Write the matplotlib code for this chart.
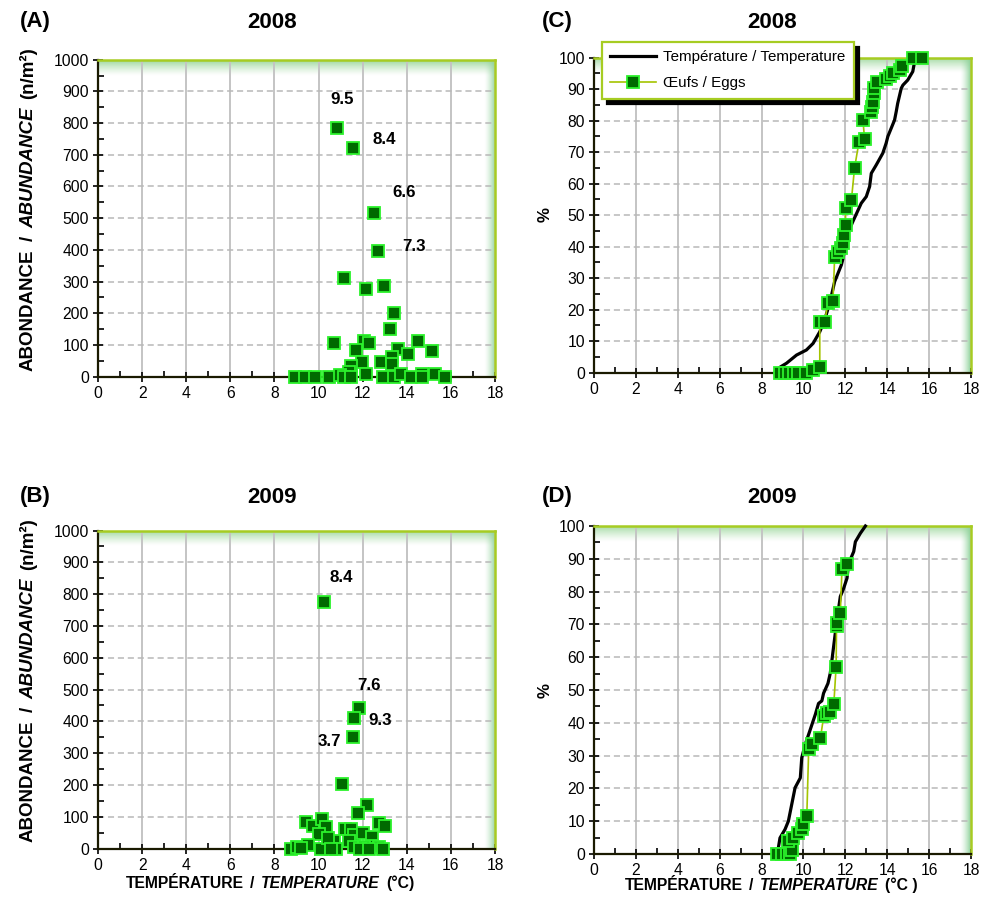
import numpy as np
import matplotlib
matplotlib.use('Agg')
import matplotlib.pyplot as plt
from matplotlib import font_manager
from matplotlib.lines import Line2D

# --- data ---
# (A) 2008 : abundance vs temperature
a_temp = [10.85, 11.55, 12.5, 12.7, 11.16, 12.13, 12.95, 13.4, 13.25, 10.72, 12.07, 12.3,
          14.49, 13.6, 14.06, 15.16, 11.68, 11.99, 12.83, 13.32, 13.32, 11.45, 11.38,
          8.92, 9.38, 9.84, 10.46, 10.97, 11.15, 11.45, 12.14, 12.91, 13.4, 13.75,
          14.2, 14.7, 14.67, 15.29, 15.72]
a_abund = [785, 720, 515, 397, 310, 276, 286, 200, 150, 107, 114, 107,
           114, 86, 72, 82, 84, 47, 46, 63, 40, 34, 16,
           0, 0, 0, 0, 5, 0, 0, 8, 0, 0, 10,
           0, 10, 0, 10, 0]
a_notes = ['9.5', '8.4', '6.6', '7.3']
a_note_xy = [(11.05, 873), (12.96, 747), (13.9, 580), (14.32, 412)]

# (B) 2009
b_temp = [10.24, 11.84, 11.62, 11.55, 11.05, 12.19, 11.77, 9.41, 9.74, 10.17, 10.32, 10.01,
          11.22, 11.47, 11.62, 12.0, 12.42, 12.75, 13.0, 10.68, 11.37, 12.42, 8.77, 9.0,
          9.52, 10.09, 10.77, 11.62, 12.07, 12.72, 10.42, 9.2, 10.55, 11.9, 12.3, 12.9]
b_abund = [774, 441, 409, 352, 204, 138, 112, 83, 72, 93, 68, 47,
           62, 62, 41, 49, 37, 81, 72, 23, 23, 7, 0, 5,
           12, 0, 0, 5, 5, 5, 34, 3, 0, 0, 0, 0]
b_notes = ['8.4', '7.6', '9.3', '3.7']
b_note_xy = [(11.05, 851), (12.28, 514), (12.78, 404), (10.5, 338)]

# (C) 2008 cumulative %
c_line_t = [8.8, 8.87, 9.19, 9.67, 10.14, 10.46, 10.78, 11.01, 11.25, 11.49, 11.81, 11.89,
            12.12, 12.36, 12.76, 13.0, 13.16, 13.24, 13.48, 13.79, 13.95, 14.03, 14.19,
            14.35, 14.43, 14.5, 14.67, 14.75, 14.98, 15.22, 15.3]
c_line_p = [0.3, 1.7, 3.0, 5.6, 7.2, 9.3, 13, 16.7, 22, 28.9, 34.2, 36.3,
            44.3, 48, 53.8, 55.9, 59.1, 63.3, 66, 69.7, 72.9, 75, 77.6,
            80.2, 82.9, 85.5, 90.3, 91.3, 92.9, 95.6, 98.5]
c_egg_t = [8.87, 9.1, 9.3, 9.55, 9.74, 10.14, 10.46, 10.78, 10.78, 11.01, 11.17, 11.41,
           11.49, 11.65, 11.81, 11.89, 11.92, 12.01, 12.01, 12.29, 12.44, 12.65, 12.92,
           12.84, 13.24, 13.28, 13.31, 13.35, 13.39, 13.5, 13.92, 14.14, 14.27, 14.63,
           14.71, 15.22, 15.67]
c_egg_p = [0, 0, 0, 0, 0, 0, 0.9, 1.9, 16.2, 16.2, 22, 22.9,
           36.8, 38.4, 39.5, 41.1, 43.7, 46.9, 52.2, 54.8, 65, 73.2, 74.1,
           80.2, 82.9, 84.4, 86, 88.7, 90.3, 92.4, 93.1, 94.2, 95.0, 96.1,
           97.4, 99.8, 99.8]

# (D) 2009 cumulative %
d_line_t = [8.77, 8.8, 8.88, 9.12, 9.28, 9.44, 9.6, 9.85, 9.92, 10.09, 10.25, 10.57, 10.72,
            10.88, 10.96, 11.17, 11.28, 11.36, 11.44, 11.52, 11.6, 11.68, 11.76, 11.92,
            12.08, 12.16, 12.4, 12.48, 12.72, 12.96]
d_line_p = [0.3, 1.8, 4.9, 7.5, 10, 15.1, 20.2, 23.2, 29.4, 33.5, 36.5, 42.6, 45.9,
            46.7, 49, 52, 55.1, 59.1, 63.2, 67.3, 71.3, 74.9, 78.5, 81,
            84.1, 88.6, 92.2, 95.2, 97.8, 100]
d_egg_t = [8.72, 8.96, 9.2, 9.37, 9.44, 9.28, 9.52, 9.76, 9.92, 10.0, 10.16, 10.25, 10.4,
           10.81, 10.97, 11.13, 11.29, 11.45, 11.56, 11.58, 11.62, 11.76, 11.84, 12.08]
d_egg_p = [0, 0, 0, 0, 1.3, 3.9, 4.9, 6.4, 7.5, 9, 11.5, 31.9, 33.5,
           35.3, 42.1, 43.1, 43.4, 45.7, 57.1, 69.5, 70.5, 73.4, 86.8, 88.4]

# --- style ---
names = {f.name for f in font_manager.fontManager.ttflist}
FAM = 'Liberation Sans Narrow' if 'Liberation Sans Narrow' in names else 'Liberation Sans'
sz = 1.0 if FAM.endswith('Narrow') else 0.87
plt.rcParams['font.family'] = [FAM, 'DejaVu Sans']

DG = '#006a00'     # marker fill
LG = '#2cf22c'     # marker edge
YG = '#a6cc22'     # frame / egg line
W, H = 984, 922

fig = plt.figure(figsize=(W / 100, H / 100), dpi=100)


def px_axes(l, r, t, b):
    return fig.add_axes([l / W, 1 - b / H, (r - l) / W, (b - t) / H])


def setup(ax, ymax, ystep, yminor):
    # green fade at top and right of plot area
    n = 64
    top = np.zeros((n, 1, 4))
    top[..., 0], top[..., 1], top[..., 2] = 0.62, 0.85, 0.62
    top[:, 0, 3] = np.linspace(1, 0, n) ** 1.3
    ax.imshow(top, extent=(0, 1, 0.95, 1), transform=ax.transAxes, aspect='auto',
              interpolation='bilinear', zorder=0)
    right = np.zeros((1, n, 4))
    right[..., 0], right[..., 1], right[..., 2] = 0.55, 0.82, 0.6
    right[0, :, 3] = np.linspace(0, 1, n) ** 1.5
    ax.imshow(right, extent=(0.972, 1, 0, 1), transform=ax.transAxes, aspect='auto',
              interpolation='bilinear', zorder=0)

    ax.set_xlim(0, 18)
    ax.set_ylim(0, ymax)
    ax.set_xticks(range(0, 19, 2))
    ax.set_xticks(range(0, 19, 1), minor=True)
    ax.set_yticks(np.arange(0, ymax + 1, ystep))
    ax.set_yticks(np.arange(0, ymax + 1, yminor), minor=True)
    ax.tick_params(which='major', direction='inout', length=7, width=1.2,
                   labelsize=13 * sz, pad=3)
    ax.tick_params(which='minor', direction='in', length=4, width=1.2)
    ax.grid(axis='x', which='major', color='#c4c4c4', lw=1.4, ls='-')
    ax.grid(axis='y', which='major', color='#b8b8b8', lw=1.1, ls=(0, (4, 2.5)))
    ax.set_axisbelow(True)
    for s in ('left', 'bottom'):
        ax.spines[s].set_color('#1a1a00')
        ax.spines[s].set_linewidth(1.6)
    for s in ('top', 'right'):
        ax.spines[s].set_color(YG)
        ax.spines[s].set_linewidth(1.8)


def mixed_label(x, y, pieces, rot=0, size=13.5, gapf=0.4):
    # bold label made of several pieces, some of them italic; x, y = centre (px, top origin)
    r = fig.canvas.get_renderer()
    size = size * sz
    gap = size * gapf * 100 / 72
    ws = []
    for s, st in pieces:
        t = fig.text(0, 0, s, fontsize=size, fontweight='bold', fontstyle=st)
        ws.append(t.get_window_extent(r).width)
        t.remove()
    total = sum(ws) + gap * (len(ws) - 1)
    pos = -total / 2
    for (s, st), w in zip(pieces, ws):
        if rot == 0:
            fx, fy = (x + pos) / W, 1 - y / H
        else:
            fx, fy = x / W, 1 - (y - pos) / H
        fig.text(fx, fy, s, rotation=rot, rotation_mode='anchor', ha='left', va='baseline',
                 fontsize=size, fontweight='bold', fontstyle=st)
        pos += w + gap


mk = dict(marker='s', ms=8, mfc=DG, mec=LG, mew=1.3)

axA = px_axes(98, 495, 59.7, 376.7)
axB = px_axes(98, 495, 530.5, 848.5)
axC = px_axes(594, 971, 57.7, 372.7)
axD = px_axes(594, 971, 526, 854)

for ax, xs, ys, notes, nxy in [(axA, a_temp, a_abund, a_notes, a_note_xy),
                               (axB, b_temp, b_abund, b_notes, b_note_xy)]:
    setup(ax, 1000, 100, 50)
    ax.plot(xs, ys, ls='none', clip_on=False, zorder=4, **mk)
    for s, (nx, ny) in zip(notes, nxy):
        ax.text(nx, ny, s, ha='center', va='center', fontsize=14 * sz, fontweight='bold')

for ax, lt, lp, et, ep in [(axC, c_line_t, c_line_p, c_egg_t, c_egg_p),
                           (axD, d_line_t, d_line_p, d_egg_t, d_egg_p)]:
    setup(ax, 100, 10, 5)
    ax.plot(lt, lp, color='black', lw=2.3, zorder=3, clip_on=False)
    ax.plot(et, ep, color='#a4c400', lw=1.2, zorder=4, clip_on=False, **mk)

h1 = Line2D([], [], color='black', lw=2.3)
h2 = Line2D([], [], color='#a4c400', lw=1.2, **mk)
leg = axC.legend([h1, h2], ['Température / Temperature', 'Œufs / Eggs'], loc='upper left',
                 bbox_to_anchor=(602 / W, 1 - 42 / H), bbox_transform=fig.transFigure,
                 borderaxespad=0, fancybox=False,
                 shadow={'color': 'black', 'alpha': 1, 'ox': 3.5, 'oy': -3.5},
                 edgecolor=YG, framealpha=1, fontsize=12.5 * sz, handlelength=3,
                 labelspacing=0.8, borderpad=0.55, handletextpad=0.5)
leg.get_frame().set_linewidth(1.6)

# panel letters and titles
for s, x, y in [('(A)', 35, 22), ('2008', 272, 22), ('(C)', 557, 22), ('2008', 772, 22),
                ('(B)', 35, 496), ('2009', 272, 497), ('(D)', 557, 496), ('2009', 772, 497)]:
    fig.text(x / W, 1 - y / H, s, ha='center', va='center', fontsize=18.5 * sz, fontweight='bold')

for y in (215, 690):
    fig.text(545 / W, 1 - y / H, '%', rotation=90, ha='center', va='center',
             fontsize=14 * sz, fontweight='bold')

ylab = [('ABONDANCE', 'normal'), ('/', 'normal'), ('ABUNDANCE', 'italic'), ('(n/m²)', 'normal')]
mixed_label(33, 209, ylab, rot=90, size=15.5, gapf=0.45)
mixed_label(33, 680, ylab, rot=90, size=15.5, gapf=0.45)
mixed_label(270, 888, [('TEMPÉRATURE', 'normal'), ('/', 'normal'),
                       ('TEMPERATURE', 'italic'), ('(°C)', 'normal')], size=13)
mixed_label(771, 890, [('TEMPÉRATURE', 'normal'), ('/', 'normal'),
                       ('TEMPERATURE', 'italic'), ('(°C )', 'normal')], size=13)

fig.savefig('out.png', dpi=100)
